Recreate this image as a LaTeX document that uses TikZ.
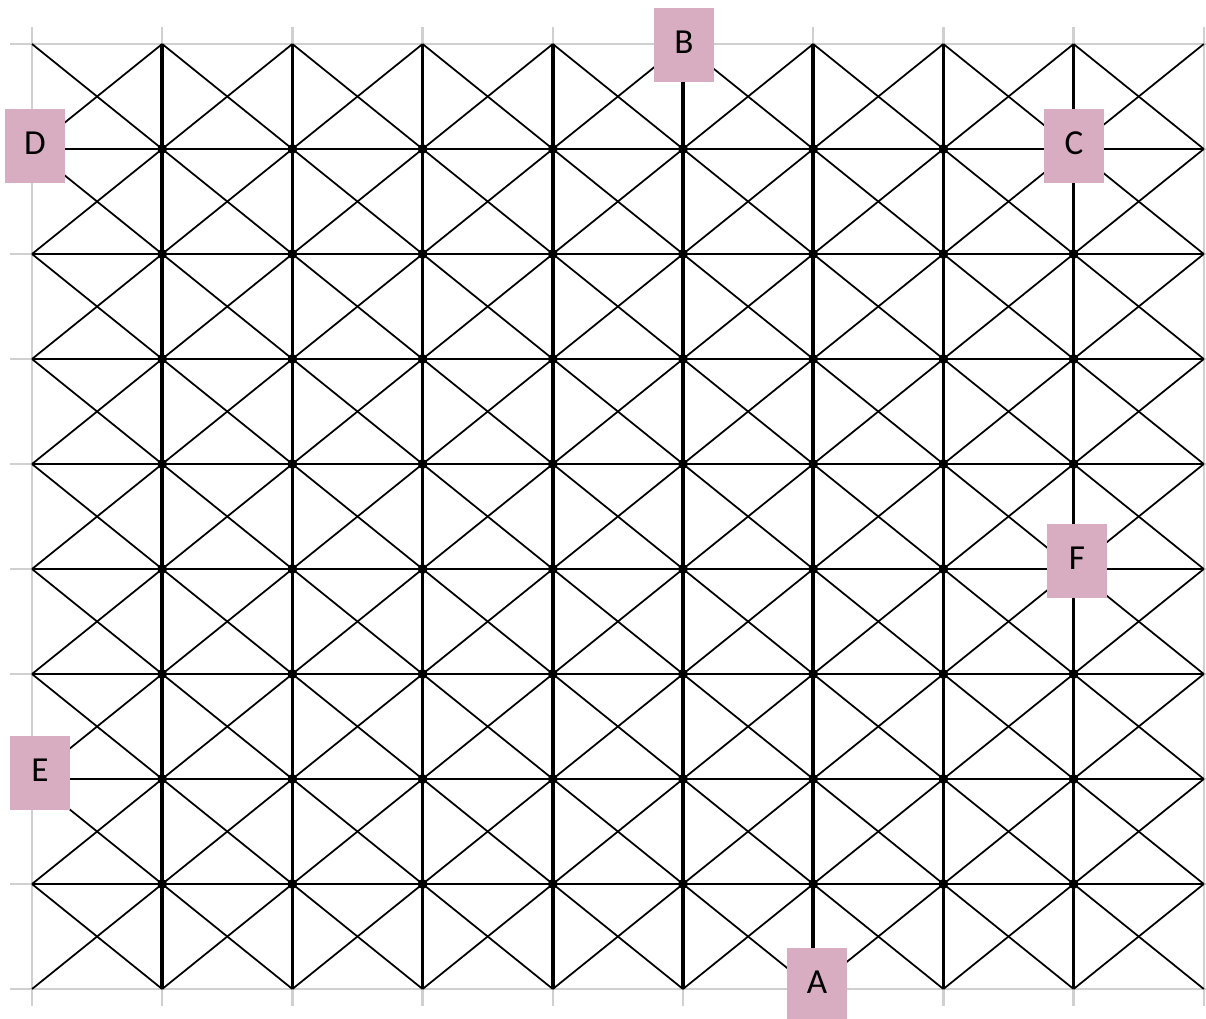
\documentclass[tikz,border=0pt]{standalone}
\usepackage{fontspec}
\setmainfont{Carlito}
\usepackage{tikz}
\usepackage{xcolor}
\definecolor{tagpink}{HTML}{D8ADC2}
\definecolor{gridgray}{HTML}{D0D0D0}
\begin{document}
\begin{tikzpicture}[x=0.02cm,y=-0.02cm,line cap=butt,
  tag/.style={fill=tagpink,minimum width=1.2cm,minimum height=1.48cm,inner sep=0pt,
    text depth=0.12cm,font=\fontsize{20}{24}\selectfont}]
\useasboundingbox (0,0) rectangle (1206,1018);
% light grid
\foreach \i in {0,...,9}{
  \draw[gridgray,line width=1.3pt] (10,44+105*\i) -- (1206,44+105*\i);
  \draw[gridgray,line width=1.3pt] (32+130.2*\i,27) -- (32+130.2*\i,1006);
}
% crosses in every cell
\foreach \i in {0,...,8}{
  \foreach \j in {0,...,8}{
    \draw[line width=1pt] (32+130.2*\i,44+105*\j) -- ++(130.2,105);
    \draw[line width=1pt] (32+130.2*\i,149+105*\j) -- ++(130.2,-105);
  }
}
% inner lines
\foreach \i in {1,...,8}{
  \draw[line width=1.4pt] (32,44+105*\i) -- (1204,44+105*\i);
  \draw[line width=2pt] (32+130.2*\i,44) -- (32+130.2*\i,989);
}
\foreach \i in {1,...,8}{
  \foreach \j in {1,...,8}{
    \fill (32+130.2*\i,44+105*\j) circle (2.8pt);
  }
}
% labels
\node[tag] (tagB) at (684,45) {B};
\node[tag] (tagD) at (35,146) {D};
\node[tag] (tagC) at (1074,146) {C};
\node[tag] (tagF) at (1077,561) {F};
\node[tag] (tagE) at (40,773) {E};
\node[tag] (tagA) at (817,985) {A};
\end{tikzpicture}
\end{document}
